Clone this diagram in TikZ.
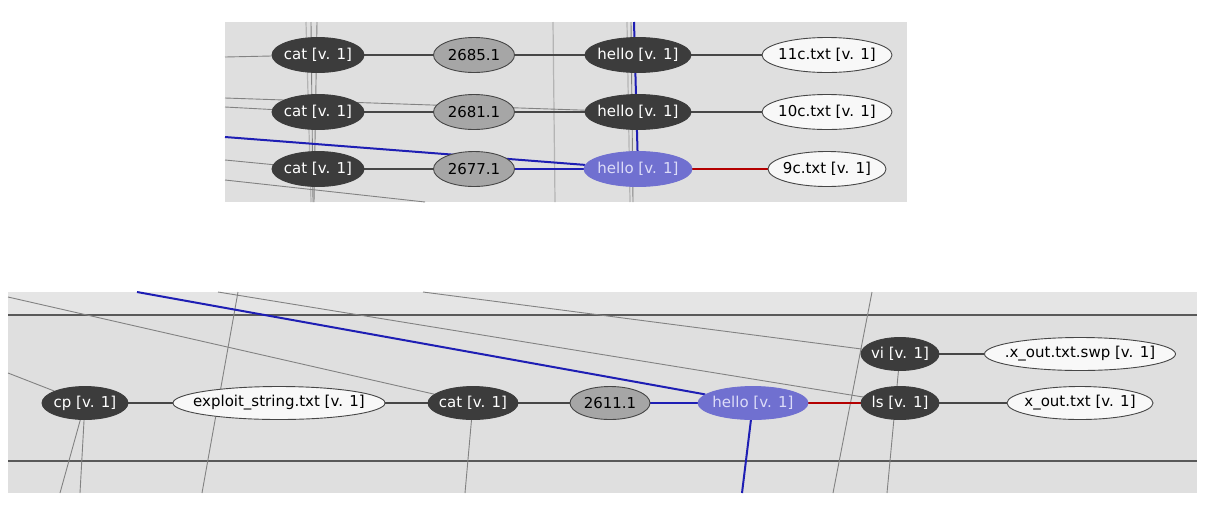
\documentclass[tikz,border=0pt]{standalone}
\usepackage{fontspec}
\setmainfont{DejaVu Sans}
\usetikzlibrary{shapes.geometric}
\pgfdeclarelayer{panel}
\pgfdeclarelayer{wires}
\pgfsetlayers{panel,wires,main}
\definecolor{panelgray}{RGB}{223,223,223}
\definecolor{stripgray}{RGB}{229,229,229}
\definecolor{procfill}{RGB}{60,60,60}
\definecolor{pidfill}{RGB}{166,166,166}
\definecolor{filefill}{RGB}{248,248,248}
\definecolor{hitfill}{RGB}{112,112,208}
\definecolor{hittext}{RGB}{220,220,248}
\definecolor{edgegray}{RGB}{70,70,70}
\definecolor{fargray}{RGB}{130,130,130}
\definecolor{palegray}{RGB}{180,180,180}
\definecolor{linkblue}{RGB}{30,30,180}
\definecolor{linkred}{RGB}{180,0,0}
\begin{document}
\begin{tikzpicture}[x=1pt,y=-1pt,
  vnode/.style={ellipse,inner xsep=-40pt,inner ysep=0pt,minimum height=35pt,line width=0.9pt,font=\fontsize{15}{17}\selectfont},
  procnode/.style={vnode,fill=procfill,draw=procfill,text=white},
  pidnode/.style={vnode,fill=pidfill,draw=edgegray,text=black},
  filenode/.style={vnode,fill=filefill,draw=edgegray,text=black},
  hitnode/.style={vnode,fill=hitfill,draw=hitfill,text=hittext},
  wire/.style={draw=edgegray,line width=1.2pt},
  farwire/.style={draw=fargray,line width=0.9pt},
  palewire/.style={draw=palegray,line width=1.2pt},
  bluewire/.style={draw=linkblue,line width=2pt},
  redwire/.style={draw=linkred,line width=2pt},
  rulewire/.style={draw=edgegray!90,line width=1.5pt}]
\useasboundingbox (0,0) rectangle (1206,507);
\begin{pgfonlayer}{panel}
\fill[panelgray] (225,22) rectangle (907,202);
\fill[panelgray] (8,292) rectangle (1197,493);
\fill[stripgray] (8,292) rectangle (1197,314);
\end{pgfonlayer}

\node[procnode,minimum width=92pt] (cat1) at (318,55) {cat [v. 1]};
\node[pidnode,minimum width=81pt] (p2685) at (474,55) {2685.1};
\node[procnode,minimum width=106pt] (hello1) at (638,55) {hello [v. 1]};
\node[filenode,minimum width=130pt] (f11c) at (827,55) {11c.txt [v. 1]};
\node[procnode,minimum width=92pt] (cat2) at (318,112) {cat [v. 1]};
\node[pidnode,minimum width=81pt] (p2681) at (474,112) {2681.1};
\node[procnode,minimum width=106pt] (hello2) at (638,112) {hello [v. 1]};
\node[filenode,minimum width=130pt] (f10c) at (827,112) {10c.txt [v. 1]};
\node[procnode,minimum width=92pt] (cat3) at (318,169) {cat [v. 1]};
\node[pidnode,minimum width=81pt] (p2677) at (474,169) {2677.1};
\node[hitnode,minimum width=108pt] (hello3) at (638,169) {hello [v. 1]};
\node[filenode,minimum width=118pt] (f9c) at (827,169) {9c.txt [v. 1]};

\node[procnode,minimum width=86pt,minimum height=33pt] (cp) at (85,403) {cp [v. 1]};
\node[filenode,minimum width=212pt,minimum height=33pt] (exploit) at (279,403) {exploit\_string.txt [v. 1]};
\node[procnode,minimum width=90pt,minimum height=33pt] (cat4) at (473,403) {cat [v. 1]};
\node[pidnode,minimum width=80pt,minimum height=33pt] (p2611) at (610,403) {2611.1};
\node[hitnode,minimum width=110pt,minimum height=33pt] (hello4) at (753,403) {hello [v. 1]};
\node[procnode,minimum width=78pt,minimum height=33pt] (ls) at (900,403) {ls [v. 1]};
\node[procnode,minimum width=78pt,minimum height=33pt] (vi) at (900,354) {vi [v. 1]};
\node[filenode,minimum width=191pt,minimum height=33pt] (swp) at (1080,354) {.x\_out.txt.swp [v. 1]};
\node[filenode,minimum width=146pt,minimum height=33pt] (xout) at (1080,403) {x\_out.txt [v. 1]};

\coordinate (tl1) at (225,57);
\coordinate (tl2) at (225,98);
\coordinate (tl3) at (225,107);
\coordinate (tl4) at (225,137);
\coordinate (tl5) at (225,160);
\coordinate (tl6) at (225,180);
\coordinate (tb6) at (425,202);
\coordinate (tv1a) at (306,22);
\coordinate (tv1b) at (311,202);
\coordinate (tv2a) at (311,22);
\coordinate (tv2b) at (313,202);
\coordinate (tv3a) at (317,22);
\coordinate (tv3b) at (314,202);
\coordinate (tv4a) at (553,22);
\coordinate (tv4b) at (555,202);
\coordinate (tv5a) at (627,22);
\coordinate (tv5b) at (630,202);
\coordinate (tv6a) at (631,22);
\coordinate (tv6b) at (633,202);
\coordinate (tv7) at (634,22);

\coordinate (bh1a) at (8,315);
\coordinate (bh1b) at (1197,315);
\coordinate (bh2a) at (8,461);
\coordinate (bh2b) at (1197,461);
\coordinate (bb1) at (137,292);
\coordinate (bb2) at (742,493);
\coordinate (bt1) at (423,292);
\coordinate (bt2) at (218,292);
\coordinate (bl1) at (8,297);
\coordinate (bl2) at (8,373);
\coordinate (bt3) at (238,292);
\coordinate (bd3) at (202,493);
\coordinate (bd1) at (60,493);
\coordinate (bd2) at (80,493);
\coordinate (bd4) at (465,493);
\coordinate (bt5) at (872,292);
\coordinate (bd5) at (833,493);
\coordinate (bd6) at (887,493);

\begin{pgfonlayer}{wires}
\draw[palewire] (tv1a) -- (tv1b);
\draw[farwire] (tv2a) -- (tv2b);
\draw[farwire] (tv3a) -- (tv3b);
\draw[palewire] (tv4a) -- (tv4b);
\draw[palewire] (tv5a) -- (tv5b);
\draw[farwire] (tv6a) -- (tv6b);
\draw[farwire] (tl1) -- (cat1);
\draw[farwire] (tl2) -- (hello2);
\draw[farwire] (tl3) -- (cat2);
\draw[farwire] (tl5) -- (cat3);
\draw[farwire] (tl6) -- (tb6);
\draw[wire] (cat1) -- (p2685);
\draw[wire] (p2685) -- (hello1);
\draw[wire] (hello1) -- (f11c);
\draw[wire] (cat2) -- (p2681);
\draw[wire] (p2681) -- (hello2);
\draw[wire] (hello2) -- (f10c);
\draw[wire] (cat3) -- (p2677);
\draw[bluewire] (tl4) -- (hello3);
\draw[bluewire] (tv7) -- (hello3);
\draw[bluewire] (p2677) -- (hello3);
\draw[redwire] (hello3) -- (f9c);

\draw[rulewire] (bh1a) -- (bh1b);
\draw[rulewire] (bh2a) -- (bh2b);
\draw[farwire] (bt1) -- (vi);
\draw[farwire] (bt2) -- (ls);
\draw[farwire] (bl1) -- (cat4);
\draw[farwire] (bl2) -- (cp);
\draw[farwire] (bt3) -- (bd3);
\draw[farwire] (cp) -- (bd1);
\draw[farwire] (cp) -- (bd2);
\draw[farwire] (cat4) -- (bd4);
\draw[farwire] (bt5) -- (bd5);
\draw[farwire] (vi) -- (bd6);
\draw[wire] (cp) -- (exploit);
\draw[wire] (exploit) -- (cat4);
\draw[wire] (cat4) -- (p2611);
\draw[wire] (vi) -- (swp);
\draw[wire] (ls) -- (xout);
\draw[bluewire] (bb1) -- (hello4);
\draw[bluewire] (hello4) -- (bb2);
\draw[bluewire] (p2611) -- (hello4);
\draw[redwire] (hello4) -- (ls);
\end{pgfonlayer}
\end{tikzpicture}
\end{document}
